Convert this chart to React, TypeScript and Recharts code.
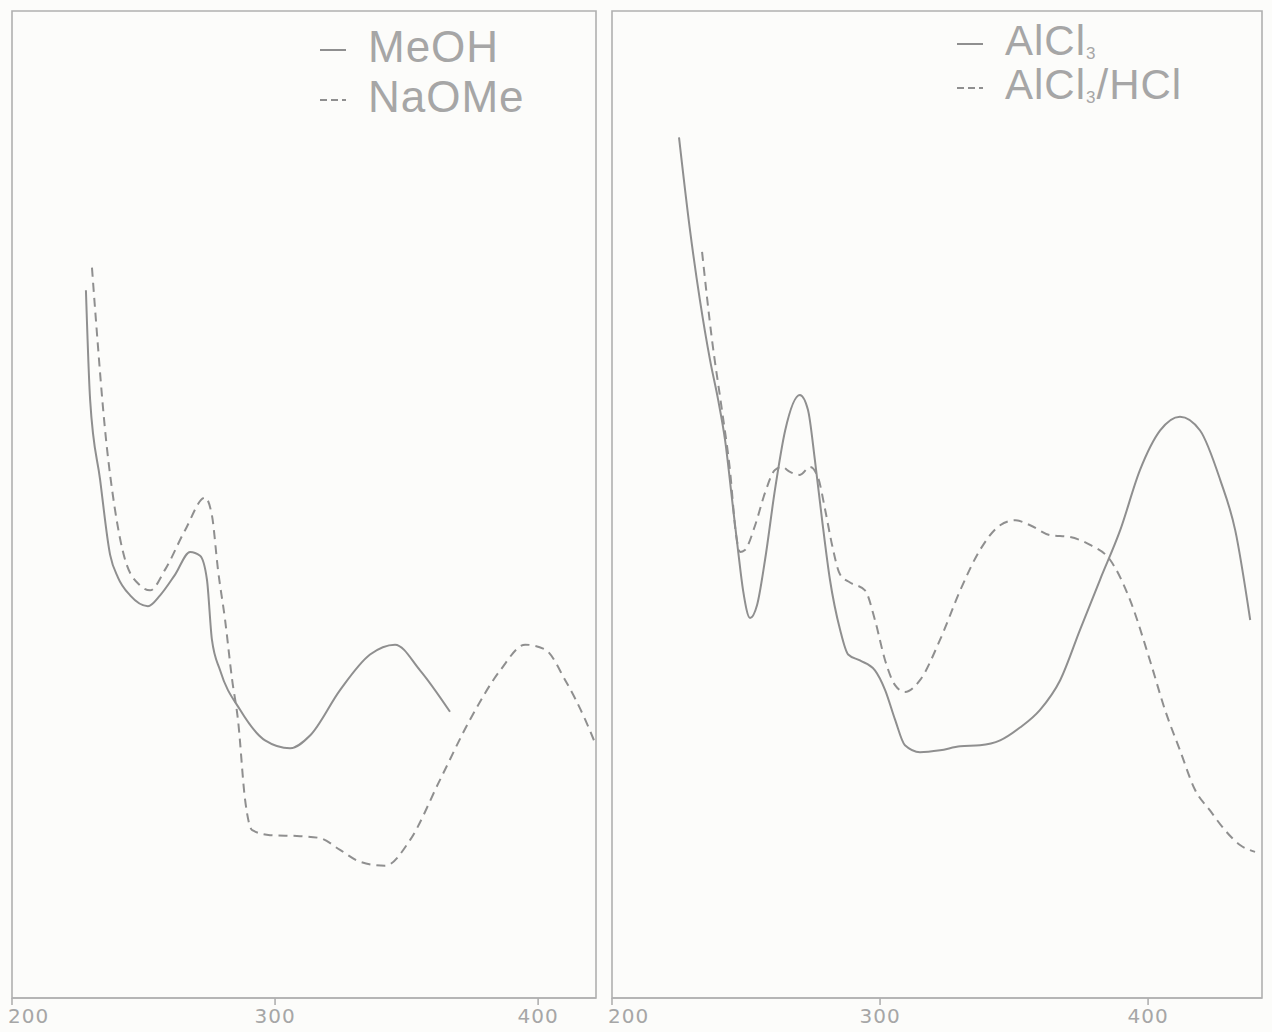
import React from "react";
import { LineChart, Line, XAxis, YAxis, ReferenceArea } from "recharts";

// wavelength (nm) / relative absorbance
const meohNm = [228.1, 229.7, 233.5, 237.3, 240.3, 244.9, 251.7, 256.3, 262.0, 267.7, 271.5, 274.1, 276.0, 279.1, 286.7, 296.2, 305.7, 313.3, 324.7, 336.1, 345.6, 355.1, 366.5];
const meohAbs = [0.717, 0.606, 0.525, 0.449, 0.426, 0.408, 0.397, 0.408, 0.429, 0.452, 0.448, 0.424, 0.363, 0.332, 0.292, 0.261, 0.253, 0.266, 0.312, 0.348, 0.358, 0.332, 0.29];

const naomeNm = [230.4, 231.9, 235.4, 239.2, 243.0, 248.7, 252.5, 258.2, 265.8, 273.4, 276.0, 278.3, 281.0, 283.7, 285.9, 288.6, 291.3, 298.1, 309.5, 317.1, 324.7, 332.3, 341.8, 351.3, 362.7, 374.1, 385.6, 395.1, 402.7, 410.3, 417.9, 422];
const naomeAbs = [0.74, 0.687, 0.575, 0.494, 0.444, 0.418, 0.413, 0.434, 0.474, 0.507, 0.489, 0.434, 0.383, 0.322, 0.282, 0.201, 0.17, 0.165, 0.164, 0.162, 0.15, 0.138, 0.134, 0.16, 0.221, 0.282, 0.332, 0.358, 0.353, 0.322, 0.282, 0.256];

const alcl3Nm = [225.0, 229.1, 232.8, 236.6, 239.6, 242.2, 244.8, 247.0, 248.9, 251.5, 254.1, 257.1, 260.8, 264.6, 270.1, 273.1, 275.7, 278.4, 281.3, 285.1, 288.1, 292.5, 298.1, 301.9, 305.6, 309.3, 314.9, 322.4, 329.9, 337.3, 344.8, 352.2, 359.7, 367.2, 374.6, 382.1, 389.6, 397.0, 404.5, 411.9, 419.4, 426.9, 432.5, 438.1];
const alcl3Abs = [0.872, 0.778, 0.707, 0.646, 0.606, 0.565, 0.505, 0.454, 0.413, 0.385, 0.398, 0.444, 0.515, 0.575, 0.611, 0.596, 0.545, 0.484, 0.424, 0.373, 0.348, 0.342, 0.332, 0.312, 0.282, 0.256, 0.249, 0.251, 0.255, 0.256, 0.261, 0.274, 0.292, 0.322, 0.373, 0.424, 0.474, 0.535, 0.575, 0.589, 0.575, 0.525, 0.474, 0.383];

const hclNm = [233.6, 237.3, 241.0, 244.0, 246.3, 247.8, 249.6, 253.4, 257.1, 260.8, 263.4, 266.4, 270.1, 273.9, 276.9, 279.5, 282.1, 285.1, 288.8, 294.4, 298.1, 301.9, 305.6, 309.3, 314.9, 322.4, 329.9, 337.3, 344.8, 350.4, 356.0, 363.4, 370.9, 378.4, 385.8, 393.3, 400.7, 406.3, 411.9, 417.5, 423.1, 428.7, 434.3, 439.9];
const hclAbs = [0.756, 0.667, 0.596, 0.535, 0.469, 0.452, 0.454, 0.479, 0.512, 0.535, 0.538, 0.533, 0.53, 0.538, 0.527, 0.495, 0.459, 0.429, 0.421, 0.413, 0.383, 0.342, 0.317, 0.31, 0.322, 0.363, 0.413, 0.454, 0.479, 0.484, 0.479, 0.469, 0.467, 0.459, 0.444, 0.403, 0.342, 0.292, 0.251, 0.211, 0.19, 0.17, 0.155, 0.148];

const xTicks = [200, 300, 400];
const leftLegend = [
  { label: "MeOH", dashed: false },
  { label: "NaOMe", dashed: true },
];
const rightLegend = [
  { label: "AlCl", sub: "3", tail: "", dashed: false },
  { label: "AlCl", sub: "3", tail: "/HCl", dashed: true },
];

const toRows = (nm: number[], a: number[]) => nm.map((x, i) => ({ nm: x, a: a[i] }));

const LINE = "#8f8f8f";
const FRAME = "#b0b0b0";
const TEXT = "#a6a6a6";

const Tick = (props: any) => {
  const { x, y, payload } = props;
  const first = payload.value === 200;
  return (
    <text
      x={first ? x - 4 : x}
      y={y + 16}
      textAnchor={first ? "start" : "middle"}
      fill={TEXT}
      fontSize={20}
      fontFamily="DejaVu Sans, sans-serif"
      letterSpacing={1}
    >
      {payload.value}
    </text>
  );
};

type Series = { nm: number[]; abs: number[]; dashed: boolean; key: string };

const Panel = ({ width, margin, domain, series }: { width: number; margin: any; domain: [number, number]; series: Series[] }) => (
  <LineChart width={width} height={1032} margin={margin}>
    <XAxis
      type="number"
      dataKey="nm"
      domain={domain}
      ticks={xTicks}
      allowDataOverflow
      height={30}
      stroke={FRAME}
      strokeWidth={1.6}
      tickSize={7}
      tick={<Tick />}
    />
    <YAxis type="number" domain={[0, 1]} hide />
    <ReferenceArea
      x1={domain[0]}
      x2={domain[1]}
      y1={0}
      y2={1}
      fill="none"
      fillOpacity={0}
      stroke={FRAME}
      strokeWidth={1.6}
      ifOverflow="visible"
    />
    {series.map((s) => (
      <Line
        key={s.key}
        data={toRows(s.nm, s.abs)}
        dataKey="a"
        type="monotone"
        stroke={LINE}
        strokeWidth={2}
        strokeDasharray={s.dashed ? "9 6" : undefined}
        dot={false}
        isAnimationActive={false}
      />
    ))}
  </LineChart>
);

const Sample = ({ dashed }: { dashed: boolean }) => (
  <svg width={30} height={6} style={{ marginRight: 20, verticalAlign: "middle" }}>
    <line x1={2} y1={3} x2={28} y2={3} stroke={LINE} strokeWidth={2} strokeDasharray={dashed ? "7 4" : undefined} />
  </svg>
);

export default function App() {
  return (
    <div style={{ position: "absolute", left: 0, top: 0, width: 1272, height: 1032, background: "#fcfcfa", fontFamily: "Liberation Sans, Arial, sans-serif" }}>
      <div style={{ position: "absolute", left: 0, top: 0 }}>
        <Panel
          width={600}
          margin={{ top: 11, right: 4, bottom: 4, left: 12 }}
          domain={[200, 422]}
          series={[
            { key: "meoh", nm: meohNm, abs: meohAbs, dashed: false },
            { key: "naome", nm: naomeNm, abs: naomeAbs, dashed: true },
          ]}
        />
      </div>
      <div style={{ position: "absolute", left: 600, top: 0 }}>
        <Panel
          width={672}
          margin={{ top: 11, right: 10, bottom: 4, left: 12 }}
          domain={[200, 442.5]}
          series={[
            { key: "alcl3", nm: alcl3Nm, abs: alcl3Abs, dashed: false },
            { key: "hcl", nm: hclNm, abs: hclAbs, dashed: true },
          ]}
        />
      </div>
      <div style={{ position: "absolute", left: 318, top: 22, color: TEXT, fontSize: 44, lineHeight: "50px", letterSpacing: 1 }}>
        {leftLegend.map((e) => (
          <div key={e.label}>
            <Sample dashed={e.dashed} />
            {e.label}
          </div>
        ))}
      </div>
      <div style={{ position: "absolute", left: 955, top: 20, color: TEXT, fontSize: 42, lineHeight: "42px", letterSpacing: 1 }}>
        {rightLegend.map((e, i) => (
          <div key={i} style={{ height: 44, whiteSpace: "nowrap" }}>
            <Sample dashed={e.dashed} />
            {e.label}
            <span style={{ fontSize: 17, position: "relative", top: 4 }}>{e.sub}</span>
            {e.tail}
          </div>
        ))}
      </div>
    </div>
  );
}
